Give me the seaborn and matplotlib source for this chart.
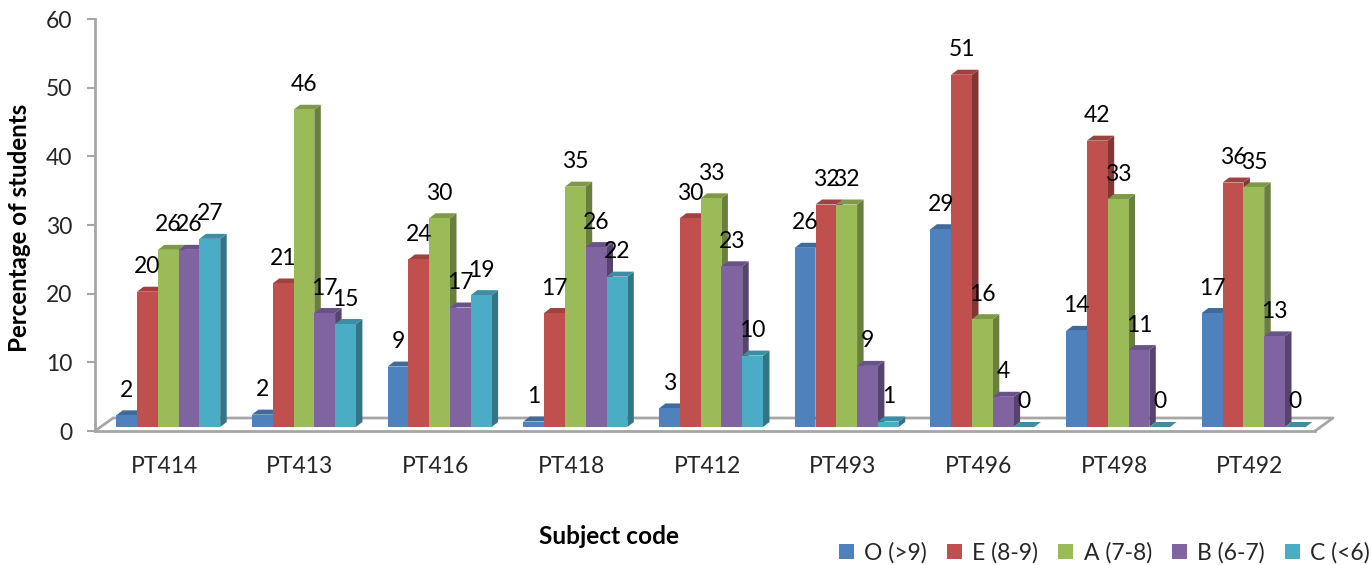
import matplotlib
matplotlib.use('Agg')
import matplotlib.pyplot as plt
import matplotlib.transforms as mtrans
import numpy as np
import pandas as pd
import seaborn as sns

subjects = ['PT414', 'PT413', 'PT416', 'PT418', 'PT412', 'PT493', 'PT496', 'PT498', 'PT492']
grades = ['O (>9)', 'E (8-9)', 'A (7-8)', 'B (6-7)', 'C (<6)']
colors = ['#4F81BD', '#C0504D', '#9BBB59', '#8064A2', '#4BACC6']

grade_o = [1.7, 1.8, 8.8, 0.8, 2.7, 26.1, 28.8, 14.0, 16.6]
grade_e = [19.7, 20.9, 24.4, 16.6, 30.4, 32.4, 51.3, 41.7, 35.6]
grade_a = [25.8, 46.2, 30.4, 35.0, 33.3, 32.4, 15.7, 33.2, 34.9]
grade_b = [25.8, 16.6, 17.4, 26.2, 23.4, 8.9, 4.4, 11.2, 13.2]
grade_c = [27.4, 15.0, 19.2, 21.9, 10.4, 0.8, 0.0, 0.0, 0.0]

df = pd.DataFrame({'subject': subjects, grades[0]: grade_o, grades[1]: grade_e,
                   grades[2]: grade_a, grades[3]: grade_b, grades[4]: grade_c})
df = df.melt(id_vars='subject', var_name='grade', value_name='pct')

sns.set_theme(style='white')
plt.rcParams['font.family'] = ['Lato', 'DejaVu Sans']

W, H = 1372, 565
fig = plt.figure(figsize=(W / 100, H / 100), dpi=100)
# axes box in pixels of the picture
left, right, top, bottom = 95, 1315, 19, 431
ax = fig.add_axes([left / W, 1 - bottom / H, (right - left) / W, (bottom - top) / H])

group_w = 104 / 135.7
sns.barplot(data=df, x='subject', y='pct', hue='grade', hue_order=grades, palette=colors,
            order=subjects, width=group_w, gap=0, saturation=1, errorbar=None, linewidth=0, ax=ax)

first_center = 168.2
step = 135.7
ax.set_xlim((left - first_center) / step, (right - first_center) / step)
ax.set_ylim(0, 60)
px_x = 1 / step
px_y = 60 / (bottom - top)

# fake 3d, sides and tops come from the real bars
dx, dy = 6.5 * px_x, 5 * px_y
lift = 4 * px_y
side_dark, top_dark = 0.68, 0.82
rects = []
for cont, col in zip(ax.containers, colors):
    for rect in cont:
        rects.append((rect.get_x(), rect, col))
rects.sort(key=lambda r: r[0])
z = 3
for x0, rect, col in rects:
    rect.set_y(rect.get_y() + lift)
    x1 = x0 + rect.get_width()
    y0, y1 = rect.get_y(), rect.get_y() + rect.get_height()
    rgb = np.array(matplotlib.colors.to_rgb(col))
    ax.fill([x1, x1 + dx, x1 + dx, x1], [y0, y0 + dy, y1 + dy, y1], color=rgb * side_dark, lw=0, zorder=z)
    ax.fill([x0, x1, x1 + dx, x0 + dx], [y1, y1, y1 + dy, y1 + dy], color=rgb * top_dark, lw=0, zorder=z + 1)
    rect.set_zorder(z + 2)
    z += 3

for cont in ax.containers:
    for rect in cont:
        xc = rect.get_x() + rect.get_width() / 2
        yt = rect.get_y() + rect.get_height()
        ax.annotate(f'{rect.get_height():.0f}', (xc, yt), xytext=(0, 18), textcoords='offset points',
                    ha='center', va='center', fontsize=16.5, color='black', zorder=200, annotation_clip=False)

# floor of the chart
gray = '#A6A6A6'
fx, fy = 18 * px_x, 13 * px_y
xa, xb = ax.get_xlim()
ax.plot([xa, xa + fx, xb + fx, xb], [0, fy, fy, 0], color=gray, lw=2, clip_on=False, zorder=1)

sns.despine(ax=ax, top=True, right=True)
for s in ['left', 'bottom']:
    ax.spines[s].set_color(gray)
    ax.spines[s].set_linewidth(2)

ax.set_yticks(range(0, 61, 10))
ax.tick_params(axis='y', length=5.5, width=1.5, color=gray, pad=11, labelsize=16.5, left=True)
ax.tick_params(axis='x', length=0, pad=18, labelsize=16.5, bottom=False)
shift = mtrans.ScaledTranslation(-4 / 100, 0, fig.dpi_scale_trans)
for lab in ax.get_xticklabels():
    lab.set_transform(lab.get_transform() + shift)

ax.set_xlabel('')
ax.set_ylabel('')
fig.text(20 / W, 1 - 228 / H, 'Percentage of students', rotation=90, ha='center', va='center',
         fontsize=17.4, fontweight='bold', color='black')
fig.text(609 / W, 1 - 537 / H, 'Subject code', ha='center', va='center',
         fontsize=17.6, fontweight='bold', color='black')

sns.move_legend(ax, 'center right', bbox_to_anchor=(1370 / W, 1 - 553 / H), bbox_transform=fig.transFigure,
                ncol=5, title=None, frameon=False, fontsize=16.5, handlelength=0.65, handleheight=0.65,
                handletextpad=0.45, columnspacing=0.88, borderpad=0, borderaxespad=0)

fig.savefig('out.png', dpi=100)
